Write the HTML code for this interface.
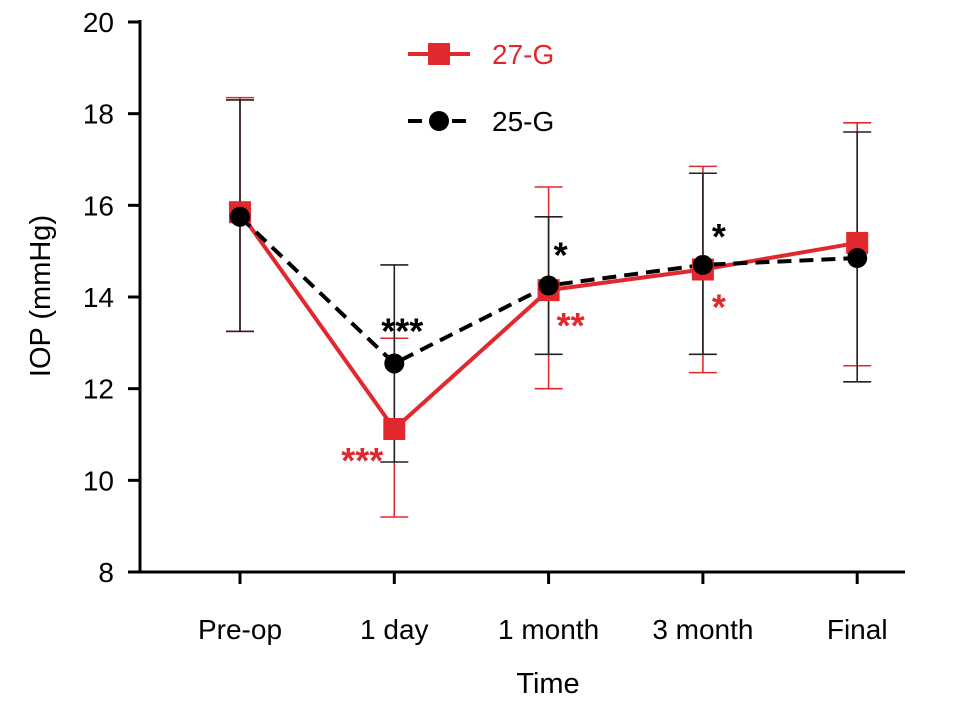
<!DOCTYPE html>
<html><head><meta charset="utf-8"><style>
html,body{margin:0;padding:0;background:#fff;}
svg text{font-family:"Liberation Sans",sans-serif;}
</style></head><body>
<svg id="chart" width="969" height="706" viewBox="0 0 969 706" xmlns="http://www.w3.org/2000/svg"></svg>
<script>
const categories=["Pre-op","1 day","1 month","3 month","Final"];
const yTicks=[8,10,12,14,16,18,20];
const mean27=[15.85,11.12,14.15,14.6,15.18];
const lo27=[13.25,9.2,12.0,12.35,12.5];
const hi27=[18.35,13.1,16.4,16.85,17.8];
const mean25=[15.75,12.55,14.25,14.7,14.85];
const lo25=[13.25,10.4,12.75,12.75,12.15];
const hi25=[18.3,14.7,15.75,16.7,17.6];
const sig27=["","***","**","*",""];
const sig25=["","***","*","*",""];

const svg=document.getElementById('chart');
const NS="http://www.w3.org/2000/svg";
function yS(v){return 572-(v-8)*(550/12);}
function xS(i){return 240+i*154.3;}
function mk(tag,attrs,parent){const e=document.createElementNS(NS,tag);for(const k in attrs)e.setAttribute(k,attrs[k]);(parent||svg).appendChild(e);return e;}
const RED="#e0282e";

let e=mk('line',{x1:140,y1:20,x2:140,y2:573,stroke:'#000','stroke-width':3});


e=mk('line',{x1:139,y1:572,x2:905,y2:572,stroke:'#000','stroke-width':3});


yTicks.forEach(v=>{
  mk('line',{x1:128,y1:yS(v),x2:140,y2:yS(v),stroke:'#000','stroke-width':3});
  const t=mk('text',{x:114,y:yS(v)+10,'text-anchor':'end','font-size':28});
  t.textContent=v;
  
  
});
categories.forEach((c,i)=>{
  mk('line',{x1:xS(i),y1:572,x2:xS(i),y2:584,stroke:'#000','stroke-width':3});
  const t=mk('text',{x:xS(i),y:639,'text-anchor':'middle','font-size':28});
  t.textContent=c;
  
  
});
e=mk('text',{x:548,y:693,'text-anchor':'middle','font-size':29});
e.textContent="Time";


e=mk('text',{x:0,y:0,'text-anchor':'middle','font-size':29,transform:'translate(50,296) rotate(-90)'});
e.textContent="IOP (mmHg)";



function errs(lo,hi,color,name){
  lo.forEach((l,i)=>{
    const x=xS(i);
    const g=mk('g',{stroke:color,'stroke-width':1.6});
    
    
    mk('line',{x1:x,y1:yS(l),x2:x,y2:yS(hi[i])},g);
    mk('line',{x1:x-14,y1:yS(l),x2:x+14,y2:yS(l)},g);
    mk('line',{x1:x-14,y1:yS(hi[i]),x2:x+14,y2:yS(hi[i])},g);
  });
}
errs(lo27,hi27,RED,'error-bar-27g');
errs(lo25,hi25,'#222','error-bar-25g');

e=mk('polyline',{points:mean27.map((v,i)=>xS(i)+','+yS(v)).join(' '),fill:'none',stroke:RED,'stroke-width':4});


e=mk('polyline',{points:mean25.map((v,i)=>xS(i)+','+yS(v)).join(' '),fill:'none',stroke:'#000','stroke-width':4,'stroke-dasharray':'14,8'});


mean27.forEach((v,i)=>{
  const r=mk('rect',{x:xS(i)-11,y:yS(v)-11,width:22,height:22,fill:RED});
  
  
});
mean25.forEach((v,i)=>{
  const c=mk('circle',{cx:xS(i),cy:yS(v),r:10,fill:'#000'});
  
  
});
const s27pos=[null,{dx:-32,dy:44},{dx:22,dy:48},{dx:16,dy:50},null];
const s25pos=[null,{dx:8,dy:-20},{dx:12,dy:-18},{dx:16,dy:-16},null];
sig27.forEach((s,i)=>{ if(!s)return;
  const t=mk('text',{x:xS(i)+s27pos[i].dx,y:yS(mean27[i])+s27pos[i].dy,'text-anchor':'middle','font-size':36,'font-weight':'bold',fill:RED});
  t.textContent=s;
  
  
});
sig25.forEach((s,i)=>{ if(!s)return;
  const t=mk('text',{x:xS(i)+s25pos[i].dx,y:yS(mean25[i])+s25pos[i].dy,'text-anchor':'middle','font-size':36,'font-weight':'bold',fill:'#000'});
  t.textContent=s;
  
  
});
const lg=mk('g',{});


mk('line',{x1:408,y1:54,x2:470,y2:54,stroke:RED,'stroke-width':4},lg);
mk('rect',{x:428,y:43,width:22,height:22,fill:RED},lg);
let t=mk('text',{x:492,y:64,'font-size':28,fill:RED},lg);t.textContent="27-G";
mk('line',{x1:408,y1:121,x2:470,y2:121,stroke:'#000','stroke-width':4,'stroke-dasharray':'14,8'},lg);
mk('circle',{cx:439,cy:121,r:10,fill:'#000'},lg);
t=mk('text',{x:492,y:131,'font-size':28,fill:'#000'},lg);t.textContent="25-G";
</script>
</body></html>
